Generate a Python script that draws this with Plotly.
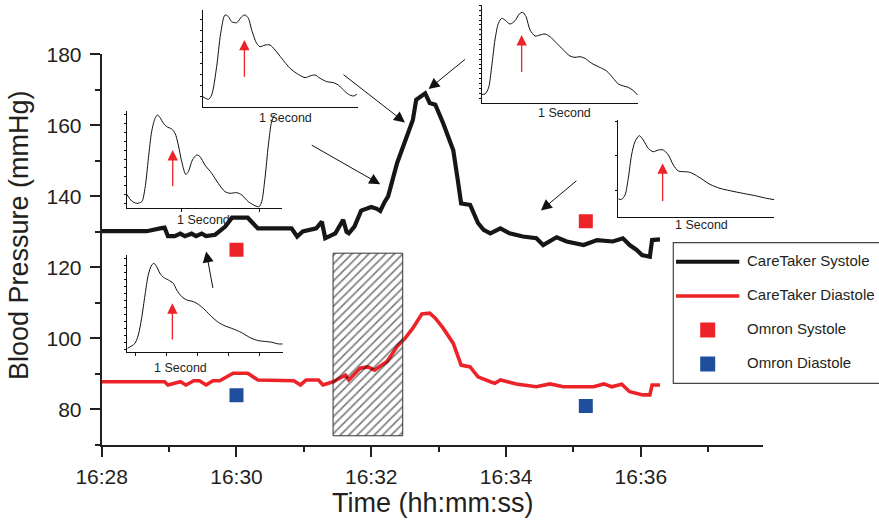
import plotly.graph_objects as go

W, H = 879, 524
DAY = "2020-01-01 "

# ---- CareTaker continuous readings -------------------------------------
sys_time = ["16:28:00", "16:28:40", "16:28:52", "16:28:56", "16:28:59", "16:29:05",
            "16:29:10", "16:29:14", "16:29:20", "16:29:24", "16:29:29", "16:29:33",
            "16:29:41", "16:29:50", "16:29:56", "16:30:10", "16:30:19", "16:30:49",
            "16:30:54", "16:30:59", "16:31:11", "16:31:16", "16:31:19", "16:31:28",
            "16:31:35", "16:31:38", "16:31:40", "16:31:45", "16:31:51", "16:32:00",
            "16:32:05", "16:32:08", "16:32:12", "16:32:15", "16:32:23", "16:32:30",
            "16:32:37", "16:32:40", "16:32:48", "16:32:52", "16:32:57", "16:33:04",
            "16:33:13", "16:33:17", "16:33:20", "16:33:28", "16:33:35", "16:33:40",
            "16:33:46", "16:33:55", "16:34:03", "16:34:15", "16:34:27", "16:34:33",
            "16:34:45", "16:34:54", "16:35:09", "16:35:21", "16:35:35", "16:35:44",
            "16:35:50", "16:35:56", "16:36:01", "16:36:08", "16:36:10", "16:36:17"]
sys_bp = [130.2, 130.2, 131.0, 131.2, 128.8, 128.8,
          129.5, 128.8, 129.5, 128.8, 129.5, 128.8,
          129.2, 131.5, 134.0, 134.0, 131.0, 131.0,
          128.7, 130.1, 131.0, 132.9, 128.2, 129.6,
          133.4, 130.0, 129.6, 131.5, 136.0, 137.0,
          136.5, 135.9, 138.5, 140.0, 149.4, 155.9,
          161.5, 167.2, 169.0, 166.3, 165.8, 160.6,
          153.0, 144.6, 138.0, 137.6, 132.5, 130.6,
          129.6, 131.0, 129.6, 128.7, 128.2, 126.3,
          128.5, 127.3, 126.3, 127.7, 127.3, 128.2,
          126.3, 125.0, 123.5, 123.0, 127.7, 127.9]

dia_time = ["16:28:00", "16:28:56", "16:28:59", "16:29:10", "16:29:15", "16:29:22",
            "16:29:27", "16:29:33", "16:29:39", "16:29:45", "16:29:57", "16:30:10",
            "16:30:19", "16:30:51", "16:30:57", "16:31:02", "16:31:13", "16:31:17",
            "16:31:26", "16:31:37", "16:31:40", "16:31:50", "16:31:57", "16:32:03",
            "16:32:14", "16:32:23", "16:32:30", "16:32:37", "16:32:45", "16:32:52",
            "16:32:57", "16:33:04", "16:33:13", "16:33:20", "16:33:28", "16:33:35",
            "16:33:46", "16:33:50", "16:33:55", "16:34:09", "16:34:27", "16:34:39",
            "16:34:51", "16:35:18", "16:35:27", "16:35:34", "16:35:43", "16:35:50",
            "16:36:02", "16:36:08", "16:36:10", "16:36:17"]
dia_bp = [87.8, 87.8, 86.9, 87.8, 86.9, 88.1,
          88.1, 86.9, 88.1, 88.1, 90.2, 90.2,
          88.3, 88.1, 86.9, 88.3, 88.3, 86.9,
          87.8, 89.7, 88.3, 91.6, 92.0, 91.1,
          93.5, 97.7, 100.0, 102.9, 106.9, 107.1,
          105.7, 102.9, 98.6, 92.5, 92.0, 89.2,
          87.8, 87.4, 88.3, 87.2, 86.4, 87.2,
          86.4, 86.4, 87.2, 86.4, 87.1, 85.0,
          84.1, 84.1, 86.9, 86.9]

# ---- Omron cuff readings -------------------------------------------------
omron_time = ["16:30:00", "16:35:11"]
omron_sys = [125, 133]
omron_dia = [84, 81]

# ---- cuff-inflation window -----------------------------------------------
hatch_time = ["16:31:26", "16:32:28"]
hatch_bp = [72.6, 124.0]

# ---- pointer arrows into the trend (tip time / pressure) ----------------
ptr_time = ["16:29:33", "16:32:08", "16:32:30", "16:32:51", "16:34:31"]
ptr_bp = [124.5, 143.4, 160.8, 170.2, 136.0]

# ---- pulse waveforms (time 0-100 % of window, amplitude 0-100) ----------
wave_a_t = [0, 3.7, 5.8, 9, 11.6, 14.4, 16.6, 18.7, 21.9, 25.2, 27.3, 29.5, 31.6, 34.8,
            37, 40.2, 43.4, 46.7, 51, 56.3, 60.6, 66, 69.2, 72.5, 75.7, 80, 84.3, 87.5,
            90.8, 94, 97.2, 99.4]
wave_a_p = [11, 8.2, 12.7, 41.8, 76, 94.9, 93.2, 88, 87, 93.2, 94.9, 91.4, 79.5, 65.8,
            62.3, 64, 64, 58.9, 50.3, 40.1, 34.9, 30.5, 32.2, 33.2, 29.8, 26.4, 25.3, 22.9,
            17.8, 13.4, 11.6, 13.4]
wave_b_t = [0, 3.2, 6.5, 9.7, 11.8, 14, 16.1, 18.3, 19.8, 21.5, 23.7, 25.8, 29, 31.2,
            33.3, 35.5, 38.1, 39.8, 42.4, 45.2, 47.3, 50.5, 54.8, 59.1, 63.4, 66.7, 71,
            74.2, 78.5, 82.8, 85.4, 87.1, 89.2, 91.4, 93.5, 95.3]
wave_b_p = [14.4, 7.5, 5.1, 6.8, 20.5, 51.4, 78.8, 92.5, 95.9, 93.2, 87.3, 83.9, 81.5, 77.1,
            65.1, 47.9, 34.9, 37.7, 49.7, 54.8, 53.1, 44.5, 36, 25.7, 17.1, 15.4, 16.1,
            13.7, 6.8, 2.7, 1.7, 6.8, 30.8, 65.1, 89, 95.9]
wave_c_t = [0, 2.1, 4.3, 6.4, 8.5, 10.7, 12.8, 15, 18.2, 21.4, 24.1, 26.3, 28.4, 31,
            34.2, 37.4, 40.6, 43.8, 48.1, 52.4, 56.6, 59.8, 63, 66.2, 70.5, 74.8, 80.1,
            84.4, 87.6, 90.8, 94, 97.2, 100]
wave_c_p = [8.5, 8.9, 14.7, 36.9, 64.2, 81.2, 86.3, 84.6, 80.5, 84, 90.8, 92.5, 88.1, 74.4,
            68.3, 69.3, 70.3, 67.6, 60.8, 53.9, 47.8, 46.4, 47.1, 45.4, 40.3, 36.9, 32.4,
            24.9, 19.1, 17.1, 15.7, 12.3, 7.8]
wave_d_t = [0, 2.1, 4.3, 6.4, 8.5, 10.7, 13.5, 16, 19.2, 22.4, 25.6, 28.8, 32.1, 35.3,
            38.5, 41.7, 45.9, 50.2, 54.5, 58.8, 65.2, 71.6, 80.1, 88.7, 95.1, 100]
wave_d_p = [18.3, 17.9, 22.4, 39.7, 63.8, 77.6, 83.8, 79.3, 70.7, 67.2, 69, 69, 63.8, 53.4,
            47.2, 46.6, 45.9, 42.4, 37.9, 33.4, 29.3, 26.9, 24.1, 21.4, 19, 17.6]
wave_e_t = [0, 2.8, 4.9, 7.1, 9.2, 11.4, 13.5, 15.7, 17.2, 18.9, 21, 23.2, 26.4, 29.6,
            31.8, 35, 38.2, 42.5, 45.7, 50, 54.3, 58.6, 62.9, 68.2, 73.6, 79, 84.3, 89.7,
            92.9, 97.2, 100]
wave_e_p = [4.1, 6.5, 9.2, 17.8, 34.9, 58.9, 79.5, 89.7, 91.4, 88, 81.2, 77.1, 74.3, 70.9,
            64, 57.2, 53.8, 52.1, 49.3, 43.5, 36.6, 30.8, 27.1, 24, 20.2, 15.1, 12, 11,
            10.3, 8.6, 8.6]

# reflected-wave marker on each pulse: time, tip amplitude, tail amplitude
refl_t = [26.9, 29.7, 25.6, 28.4, 29.0]
refl_tip = [69.2, 59.9, 69.3, 55.2, 50.3]
refl_tail = [29.8, 21.2, 30.0, 14.8, 11.6]

FONT = "Liberation Sans, Arial, sans-serif"
INK = "#231f20"
RED = "#ec2329"
BLUE = "#1f4e9c"


def fx(p):
    return p / W


def fy(p):
    return 1 - p / H


def ts(lst):
    return [DAY + t for t in lst]


fig = go.Figure()

fig.add_trace(go.Scatter(x=ts(sys_time), y=sys_bp, mode="lines", name="CareTaker Systole",
                         line=dict(color="#161616", width=4.2), xaxis="x", yaxis="y"))
fig.add_trace(go.Scatter(x=ts(dia_time), y=dia_bp, mode="lines", name="CareTaker Diastole",
                         line=dict(color=RED, width=3.6), xaxis="x", yaxis="y"))
fig.add_trace(go.Scatter(x=ts(omron_time), y=omron_sys, mode="markers", name="Omron Systole",
                         marker=dict(symbol="square", size=14, color=RED, line=dict(width=0))))
fig.add_trace(go.Scatter(x=ts(omron_time), y=omron_dia, mode="markers", name="Omron Diastole",
                         marker=dict(symbol="square", size=14, color=BLUE, line=dict(width=0))))

# hatched cuff-inflation window
hx = ts([hatch_time[0], hatch_time[1], hatch_time[1], hatch_time[0], hatch_time[0]])
hy = [hatch_bp[0], hatch_bp[0], hatch_bp[1], hatch_bp[1], hatch_bp[0]]
fig.add_trace(go.Scatter(x=hx, y=hy, mode="lines", fill="toself",
                         fillcolor="rgba(0,0,0,0)",
                         fillpattern=dict(shape="/", fgcolor="#000000", bgcolor="rgba(0,0,0,0)",
                                          size=6, solidity=0.28),
                         line=dict(color="#333333", width=1), hoverinfo="skip"))

# ---- inset pulse panels ----------------------------------------------------
# pixel boxes (left, top, right, bottom) of each inset plot frame
inset_px = [(202.7, 10, 357.7, 107.3),
            (126.7, 111, 281.7, 208.3),
            (481.7, 5, 637.7, 102.7),
            (618.3, 120, 774.3, 216.7),
            (127.3, 255, 282.7, 352.3)]
waves = [(wave_a_t, wave_a_p), (wave_b_t, wave_b_p), (wave_c_t, wave_c_p),
         (wave_d_t, wave_d_p), (wave_e_t, wave_e_p)]
ytick_spec = [(11, 11.3), (5.1, 9.1), (9.6, 5.0), (27.6, 35.2), (2.4, 7.2)]
xtick_vals = [[], [35.3, 85.4], [], [], [5.4, 25.3, 45.3, 65, 85]]
label_px = [(285, 118), (203.3, 220), (564.3, 113.3), (701.7, 225), (180, 367.7)]

annotations = []
for i, (box, (wt, wp)) in enumerate(zip(inset_px, waves)):
    n = i + 2
    xa, ya = f"x{n}", f"y{n}"
    fig.add_trace(go.Scatter(x=wt, y=wp, mode="lines", xaxis=xa, yaxis=ya,
                             line=dict(color="#111111", width=1, shape="spline", smoothing=0.8),
                             hoverinfo="skip"))
    l, t, r, b = box
    fig.update_layout(**{
        f"xaxis{n}": dict(domain=[fx(l), fx(r)], anchor=ya, range=[0, 100], automargin=False,
                          showgrid=False, zeroline=False, showline=True,
                          linecolor="#111", linewidth=1, showticklabels=False,
                          ticks="outside" if xtick_vals[i] else "", tickvals=xtick_vals[i],
                          ticklen=3, tickwidth=1, tickcolor="#111"),
        f"yaxis{n}": dict(domain=[fy(b), fy(t)], anchor=xa, range=[0, 100], automargin=False,
                          showgrid=False, zeroline=False, showline=True,
                          linecolor="#111", linewidth=1, showticklabels=False,
                          ticks="outside", tick0=ytick_spec[i][0], dtick=ytick_spec[i][1],
                          ticklen=2, tickwidth=1, tickcolor="#111"),
    })
    annotations.append(dict(xref=xa, yref=ya, axref=xa, ayref=ya,
                            x=refl_t[i], y=refl_tip[i], ax=refl_t[i], ay=refl_tail[i],
                            text="", showarrow=True, arrowhead=2, arrowsize=1.6,
                            arrowwidth=1.3, arrowcolor=RED))
    annotations.append(dict(xref="paper", yref="paper", x=fx(label_px[i][0]), y=fy(label_px[i][1]),
                            text="1 Second", showarrow=False, xanchor="center", yanchor="middle",
                            font=dict(family=FONT, size=12.5, color=INK)))

# pointer arrows from the insets to the trend (tail offsets in px)
ptr_offsets = [(7, 38), (-70, -40), (-63, -49), (38, -31), (37, -31)]
for t, v, (dx, dy) in zip(ptr_time, ptr_bp, ptr_offsets):
    annotations.append(dict(xref="x", yref="y", x=DAY + t, y=v, ax=dx, ay=dy,
                            text="", showarrow=True, arrowhead=2, arrowsize=2.2,
                            arrowwidth=1, arrowcolor="#111111"))

# axis titles
annotations.append(dict(xref="paper", yref="paper", x=fx(433.3), y=fy(503),
                        text="Time (hh:mm:ss)", showarrow=False, xanchor="center",
                        yanchor="middle", font=dict(family=FONT, size=27, color=INK)))
annotations.append(dict(xref="paper", yref="paper", x=fx(19), y=fy(235),
                        text="Blood Pressure (mmHg)", showarrow=False, textangle=-90,
                        xanchor="center", yanchor="middle",
                        font=dict(family=FONT, size=27, color=INK)))

# ---- hand-built legend ----------------------------------------------------
shapes = [dict(type="rect", xref="paper", yref="paper", x0=fx(673.3), x1=fx(885),
               y0=fy(383.3), y1=fy(242.7), line=dict(color="#444", width=1.2),
               fillcolor="white", layer="below")]
shapes.append(dict(type="line", xref="paper", yref="paper", x0=fx(676), x1=fx(739.3),
                   y0=fy(261.7), y1=fy(261.7), line=dict(color="#161616", width=4)))
shapes.append(dict(type="line", xref="paper", yref="paper", x0=fx(676), x1=fx(739.3),
                   y0=fy(296), y1=fy(296), line=dict(color=RED, width=3.5)))
for cy, col in [(330, RED), (364, BLUE)]:
    shapes.append(dict(type="rect", xref="paper", yref="paper", x0=fx(700.2), x1=fx(715.2),
                       y0=fy(cy + 7.5), y1=fy(cy - 7.5), line=dict(width=0), fillcolor=col))
legend_names = ["CareTaker Systole", "CareTaker Diastole", "Omron Systole", "Omron Diastole"]
for name, cy in zip(legend_names, [260, 294, 328.3, 362.3]):
    annotations.append(dict(xref="paper", yref="paper", x=fx(745), y=fy(cy), text=name,
                            showarrow=False, xanchor="left", yanchor="middle",
                            font=dict(family=FONT, size=15, color=INK)))

fig.update_layout(
    width=W, height=H, autosize=False,
    margin=dict(l=0, r=0, t=0, b=0, pad=0),
    paper_bgcolor="white", plot_bgcolor="rgba(0,0,0,0)",
    showlegend=False,
    font=dict(family=FONT, color=INK),
    xaxis=dict(domain=[fx(101.7), fx(763.3)], anchor="y", type="date", automargin=False,
               range=[DAY + "16:28:00", DAY + "16:37:49"],
               tick0=DAY + "16:28:00", dtick=120000, tickformat="%H:%M",
               showgrid=False, zeroline=False, showline=True, linecolor=INK, linewidth=2,
               ticks="outside", ticklen=10, tickwidth=2, tickcolor=INK, ticklabelstandoff=2,
               minor=dict(dtick=60000, ticks="outside", ticklen=5, tickwidth=2, tickcolor=INK),
               tickfont=dict(family=FONT, size=21, color=INK)),
    yaxis=dict(domain=[fy(445), fy(54.3)], anchor="x", range=[70, 180], automargin=False,
               tick0=0, dtick=20,
               showgrid=False, zeroline=False, showline=True, linecolor=INK, linewidth=2,
               ticks="outside", ticklen=10, tickwidth=2, tickcolor=INK, ticklabelstandoff=4,
               minor=dict(dtick=10, ticks="outside", ticklen=5, tickwidth=2, tickcolor=INK),
               tickfont=dict(family=FONT, size=21, color=INK)),
    annotations=annotations,
    shapes=shapes,
)

fig.write_html("out.html")
